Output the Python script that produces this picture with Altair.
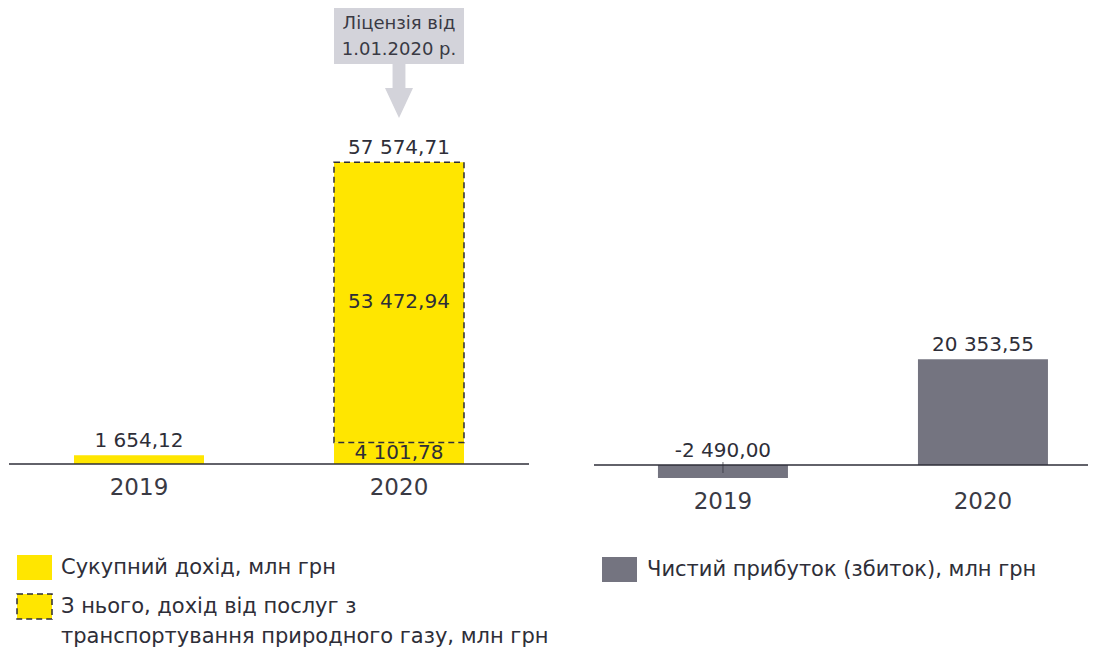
import altair as alt
import pandas as pd

# ---------------- data ----------------
years = ["2019", "2020"]
S1 = "Сукупний дохід, млн грн"
S2 = "З нього, дохід від послуг з|транспортування природного газу, млн грн"
S3 = "Чистий прибуток (збиток), млн грн"

income_total = [1654.12, 57574.71]
part_years = ["2019", "2020", "2020"]
part_series = [S1, S1, S2]
part_values = [1654.12, 4101.78, 53472.94]
part_order = [0, 0, 1]

profit = [-2490.00, 20353.55]

note_year = ["2020"]
note_lines = ["Ліцензія від", "1.01.2020 р."]


def fmt(v):
    s = f"{abs(v):,.2f}".replace(",", " ").replace(".", ",")
    return ("-" if v < 0 else "") + s


# ---------------- styles ----------------
FONT = "DejaVu Sans"
DARK = "#2e2e38"
YELLOW = "#ffe600"
GRAY = "#747480"
LIGHT = "#d3d3da"
RECT_PATH = "M-1,-0.72L1,-0.72L1,0.72L-1,0.72Z"
ARROW_PATH = "M-0.46,-1.93L0.46,-1.93L0.46,-0.22L1,-0.22L0,1.93L-1,-0.22L-0.46,-0.22Z"

# ---------------- left panel ----------------
parts_df = pd.DataFrame({
    "year": part_years, "series": part_series, "value": part_values,
    "ord": part_order, "label": [fmt(v) for v in part_values],
})
tot_df = pd.DataFrame({"year": years, "total": income_total,
                       "label": [fmt(v) for v in income_total]})
note_df = pd.DataFrame({"year": note_year, "note": ["\n".join(note_lines)]})
zero_df = pd.DataFrame({"zero": [0]})

yL = alt.Scale(domain=[0, 87000], nice=False, zero=False)
xL = alt.X("year:N", sort=years,
           scale=alt.Scale(domain=years, paddingInner=0.5, paddingOuter=0.25),
           axis=alt.Axis(title=None, domain=False, ticks=False, labelAngle=0,
                         labelFont=FONT, labelFontSize=23, labelColor="#3a3a44",
                         labelPadding=12))

legL = alt.Legend(orient="none", legendX=7, legendY=541, title=None,
                  symbolType=RECT_PATH, symbolSize=1225, symbolStrokeWidth=1.5,
                  labelFont=FONT, labelFontSize=21, labelColor=DARK,
                  labelOffset=8, labelLimit=0, rowPadding=4,
                  labelExpr="split(datum.label, '|')")

bars = alt.Chart(parts_df).mark_bar(strokeWidth=1.5).encode(
    x=xL,
    y=alt.Y("value:Q", stack="zero", scale=yL, axis=None),
    order=alt.Order("ord:Q"),
    fill=alt.Fill("series:N", scale=alt.Scale(domain=[S1, S2], range=[YELLOW, YELLOW]), legend=legL),
    stroke=alt.Stroke("series:N", scale=alt.Scale(domain=[S1, S2], range=["transparent", DARK]), legend=legL),
    strokeDash=alt.StrokeDash("series:N", scale=alt.Scale(domain=[S1, S2], range=[[1, 0], [6, 4]]), legend=legL),
)

tot_text = alt.Chart(tot_df).mark_text(font=FONT, fontSize=20, color=DARK,
                                        baseline="alphabetic", dy=-8).encode(
    x=xL, y=alt.Y("total:Q", scale=yL, axis=None), text="label:N")

seg_text = alt.Chart(parts_df).transform_stack(
    stack="value", groupby=["year"], as_=["y0", "y1"], sort=[alt.SortField("ord")]
).transform_filter("datum.year == '2020'").transform_calculate(
    mid="(datum.y0 + datum.y1) / 2"
).mark_text(font=FONT, fontSize=20, color=DARK, baseline="middle").encode(
    x=xL, y=alt.Y("mid:Q", scale=yL, axis=None), text="label:N")

zero_L = alt.Chart(zero_df).mark_rule(color=DARK, strokeWidth=1.5).encode(
    y=alt.Y("zero:Q", scale=yL, axis=None))

note_box = alt.Chart(note_df).mark_bar(color=LIGHT).encode(
    x=xL, y=alt.Y(datum=87000, scale=yL, axis=None), y2=alt.Y2(datum=76300))
note_arrow = alt.Chart(note_df).mark_point(shape=ARROW_PATH, size=784, filled=True,
                                           color=LIGHT, opacity=1, strokeWidth=0).encode(
    x=xL, y=alt.Y(datum=71160, scale=yL, axis=None))
note_text = alt.Chart(note_df).mark_text(font=FONT, fontSize=18, lineHeight=26,
                                         lineBreak="\n", color="#3a3a44",
                                         baseline="middle").encode(
    x=xL, y=alt.Y(datum=83950, scale=yL, axis=None), text="note:N")

left = alt.layer(bars, zero_L, tot_text, seg_text, note_box, note_arrow, note_text).properties(
    width=520, height=456)

# ---------------- right panel ----------------
prof_df = pd.DataFrame({"year": years, "value": profit, "series": [S3, S3],
                        "label": [fmt(v) for v in profit]})
tick_df = pd.DataFrame({"year": ["2019"]})

yR = alt.Scale(domain=[-2490, 87900], nice=False, zero=False)
xR = alt.X("year:N", sort=years,
           scale=alt.Scale(domain=years, paddingInner=0.5, paddingOuter=0.2, align=0.615),
           axis=alt.Axis(title=None, domain=False, ticks=False, labelAngle=0,
                         labelFont=FONT, labelFontSize=23, labelColor="#3a3a44",
                         labelPadding=12))
legR = alt.Legend(orient="none", legendX=8, legendY=544, title=None,
                  symbolType=RECT_PATH, symbolSize=1225, symbolStrokeWidth=0,
                  labelFont=FONT, labelFontSize=21, labelColor=DARK,
                  labelOffset=10, labelLimit=0)

bars_R = alt.Chart(prof_df).mark_bar().encode(
    x=xR, y=alt.Y("value:Q", scale=yR, axis=None),
    fill=alt.Fill("series:N", scale=alt.Scale(domain=[S3], range=[GRAY]), legend=legR))
zero_R = alt.Chart(zero_df).mark_rule(color=DARK, strokeWidth=1.5).encode(
    y=alt.Y("zero:Q", scale=yR, axis=None))
tick_R = alt.Chart(tick_df).mark_tick(orient="vertical", size=11, thickness=1, color=DARK).encode(
    x=xR, y=alt.Y(datum=0, scale=yR, axis=None), yOffset=alt.value(2.5))
text_R = alt.Chart(prof_df).transform_calculate(
    ly="max(datum.value, 0)"
).mark_text(font=FONT, fontSize=20, color=DARK, baseline="alphabetic", dy=-8).encode(
    x=xR, y=alt.Y("ly:Q", scale=yR, axis=None), text="label:N")

right = alt.layer(bars_R, zero_R, tick_R, text_R).properties(width=494, height=470)

chart = alt.hconcat(left, right, spacing=65, bounds="flush").resolve_scale(
    x="independent", y="independent", fill="independent", stroke="independent",
    strokeDash="independent"
).properties(padding=0).configure(
    font=FONT,
    view=alt.ViewConfig(stroke=None, strokeWidth=0),
    style={"guide-label": {"lineHeight": 30}},
)

chart.save("out.html", embed_options={"renderer": "svg", "actions": False})
